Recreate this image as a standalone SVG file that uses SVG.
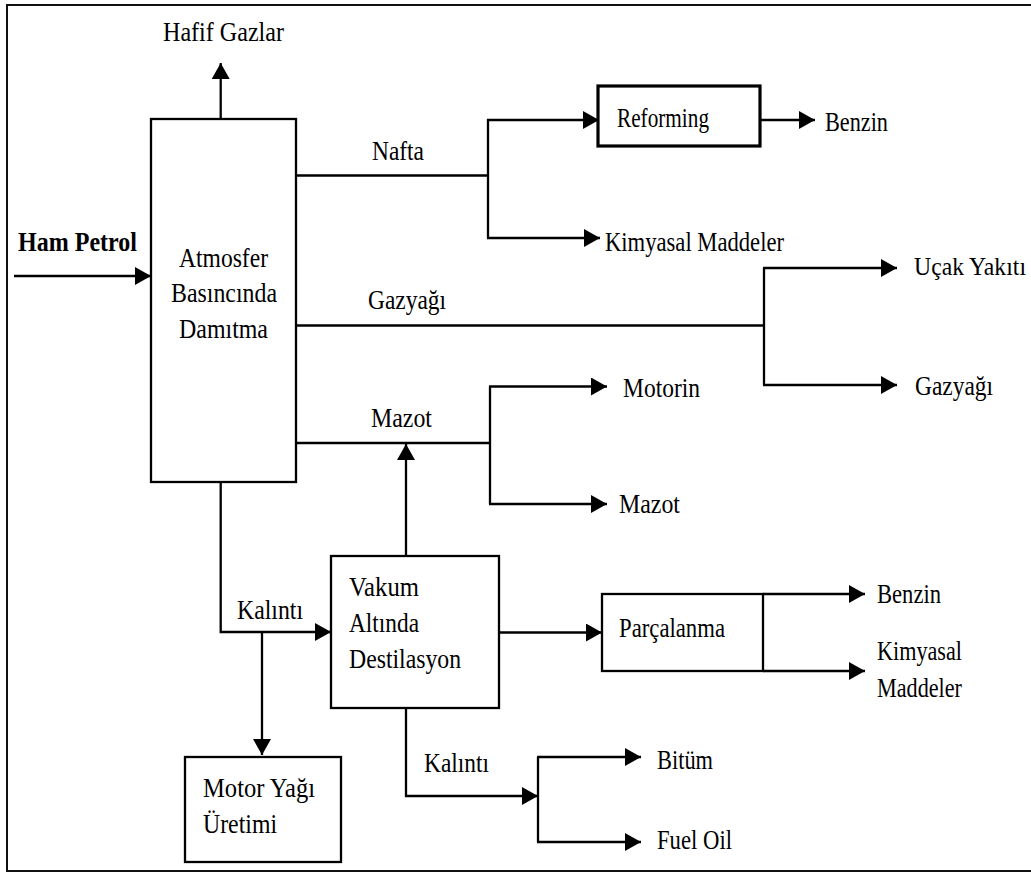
<svg xmlns="http://www.w3.org/2000/svg" width="1031" height="873" viewBox="0 0 1031 873">
<defs>
<marker id="ah" markerUnits="userSpaceOnUse" markerWidth="17" markerHeight="18" refX="16" refY="9" orient="auto">
<path d="M0,0 L16,9 L0,18 z" fill="#000"/>
</marker>
<style>
.b{font-weight:bold;}
.box{fill:#fff;stroke:#000;stroke-width:2.3;}
.thick{stroke-width:3.2;}
.c{fill:none;stroke:#000;stroke-width:2.3;}
.a{marker-end:url(#ah);}
</style>
</defs>
<rect x="0" y="0" width="1031" height="873" fill="#fff"/>
<rect x="7" y="5" width="1030" height="866" fill="none" stroke="#111" stroke-width="2"/>

<g id="connectors">
<line class="c a" x1="220.7" y1="119" x2="220.7" y2="63"/>
<line class="c a" x1="14" y1="276" x2="151" y2="276"/>
<line class="c" x1="296" y1="175.5" x2="488" y2="175.5"/>
<line class="c" x1="488" y1="119" x2="488" y2="238"/>
<polyline class="c a" points="487,120 599,120"/>
<polyline class="c a" points="487,238 600,238"/>
<line class="c a" x1="760" y1="120" x2="815" y2="120"/>
<line class="c" x1="296" y1="325.5" x2="764" y2="325.5"/>
<line class="c" x1="764" y1="268" x2="764" y2="385"/>
<polyline class="c a" points="763,268 897,268"/>
<polyline class="c a" points="763,385 897,385"/>
<line class="c" x1="296" y1="443" x2="490" y2="443"/>
<line class="c" x1="490" y1="386.5" x2="490" y2="504"/>
<polyline class="c a" points="489,386.5 607,386.5"/>
<polyline class="c a" points="489,504 607,504"/>
<line class="c a" x1="406" y1="556" x2="406" y2="444"/>
<polyline class="c a" points="220.7,482 220.7,632 331,632"/>
<line class="c a" x1="262" y1="632" x2="262" y2="755"/>
<line class="c a" x1="499" y1="632.5" x2="602" y2="632.5"/>
<line class="c a" x1="763" y1="594" x2="865" y2="594"/>
<line class="c a" x1="763" y1="671" x2="865" y2="671"/>
<polyline class="c a" points="406,708 406,796 538,796"/>
<line class="c" x1="538" y1="757" x2="538" y2="842"/>
<polyline class="c a" points="537,757 641,757"/>
<polyline class="c a" points="537,842 641,842"/>
</g>

<g font-family="Liberation Serif, Times New Roman, serif" font-size="27" fill="#000">
<g id="labels">
<text x="163" y="41" textLength="121" lengthAdjust="spacingAndGlyphs">Hafif Gazlar</text>
<text class="b" x="18" y="251" textLength="119" lengthAdjust="spacingAndGlyphs">Ham Petrol</text>
<text x="372" y="160" textLength="52" lengthAdjust="spacingAndGlyphs">Nafta</text>
<text x="368" y="309" textLength="78" lengthAdjust="spacingAndGlyphs">Gazyağı</text>
<text x="371" y="427" textLength="61" lengthAdjust="spacingAndGlyphs">Mazot</text>
<text x="237" y="619" textLength="66" lengthAdjust="spacingAndGlyphs">Kalıntı</text>
<text x="424" y="772" textLength="65" lengthAdjust="spacingAndGlyphs">Kalıntı</text>
</g>

<g id="atmosfer">
<rect class="box" x="151" y="119" width="145" height="363"/>
<text x="179" y="267" textLength="89" lengthAdjust="spacingAndGlyphs">Atmosfer</text>
<text x="171" y="302" textLength="106" lengthAdjust="spacingAndGlyphs">Basıncında</text>
<text x="179" y="338" textLength="89" lengthAdjust="spacingAndGlyphs">Damıtma</text>
</g>

<g id="reforming">
<rect class="box thick" x="598" y="86" width="162" height="60"/>
<text x="617" y="127" textLength="92" lengthAdjust="spacingAndGlyphs">Reforming</text>
</g>

<g id="benzin1"><text x="825" y="131" textLength="63" lengthAdjust="spacingAndGlyphs">Benzin</text></g>
<g id="kimyasal1"><text x="605" y="251" textLength="179" lengthAdjust="spacingAndGlyphs">Kimyasal Maddeler</text></g>
<g id="ucak"><text x="914" y="275" font-size="24.5" textLength="112" lengthAdjust="spacingAndGlyphs">Uçak Yakıtı</text></g>
<g id="gazyagi"><text x="915" y="395" textLength="78" lengthAdjust="spacingAndGlyphs">Gazyağı</text></g>
<g id="motorin"><text x="623" y="397" textLength="77" lengthAdjust="spacingAndGlyphs">Motorin</text></g>
<g id="mazot"><text x="619" y="513" textLength="61" lengthAdjust="spacingAndGlyphs">Mazot</text></g>

<g id="vakum">
<rect class="box" x="331" y="556" width="168" height="152"/>
<text x="349" y="596" textLength="70" lengthAdjust="spacingAndGlyphs">Vakum</text>
<text x="349" y="632" textLength="70" lengthAdjust="spacingAndGlyphs">Altında</text>
<text x="349" y="668" textLength="112" lengthAdjust="spacingAndGlyphs">Destilasyon</text>
</g>

<g id="motoryagi">
<rect class="box" x="185" y="757" width="156" height="105"/>
<text x="203" y="797" textLength="112" lengthAdjust="spacingAndGlyphs">Motor Yağı</text>
<text x="203" y="833" textLength="74" lengthAdjust="spacingAndGlyphs">Üretimi</text>
</g>

<g id="parcalanma">
<rect class="box" x="602" y="594" width="161" height="77"/>
<text x="619" y="637" textLength="106" lengthAdjust="spacingAndGlyphs">Parçalanma</text>
</g>

<g id="benzin2"><text x="877" y="603" textLength="64" lengthAdjust="spacingAndGlyphs">Benzin</text></g>
<g id="kimyasal2">
<text x="877" y="660" textLength="85" lengthAdjust="spacingAndGlyphs">Kimyasal</text>
<text x="877" y="697" textLength="85" lengthAdjust="spacingAndGlyphs">Maddeler</text>
</g>
<g id="bitum"><text x="657" y="769" textLength="56" lengthAdjust="spacingAndGlyphs">Bitüm</text></g>
<g id="fueloil"><text x="657" y="849" textLength="75" lengthAdjust="spacingAndGlyphs">Fuel Oil</text></g>
</g>
</svg>
